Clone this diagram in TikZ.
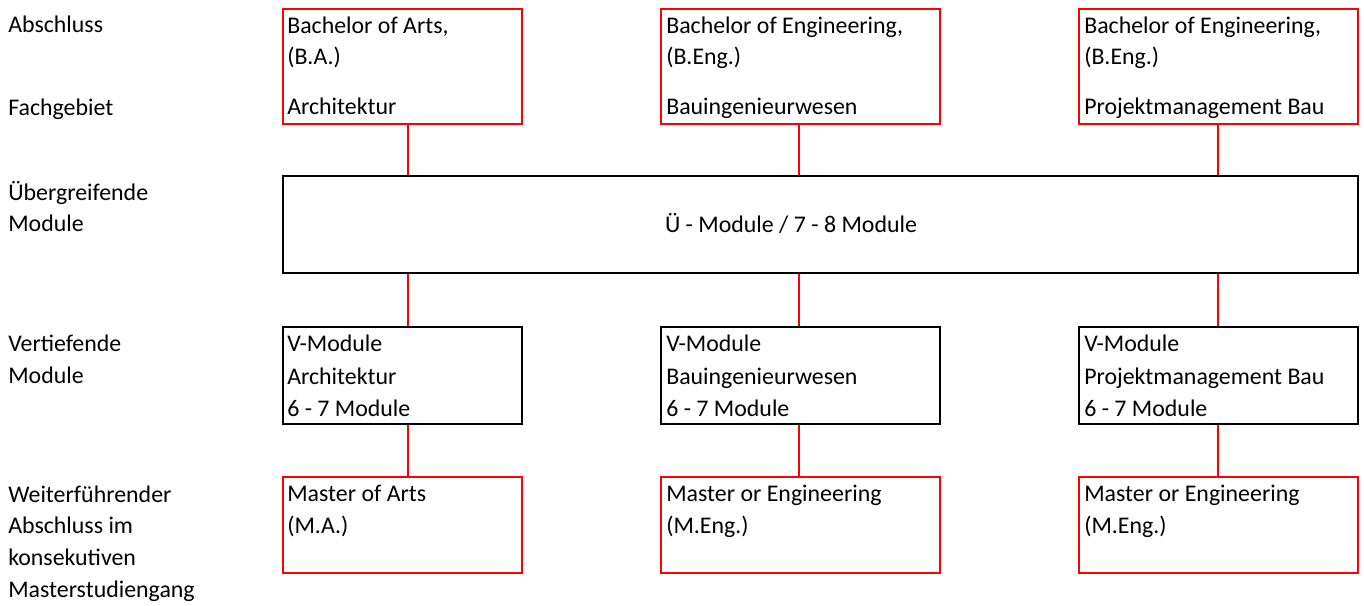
\documentclass[tikz,border=0pt]{standalone}
\usepackage{fontspec}
\setmainfont{Carlito}
\begin{document}
\begin{tikzpicture}[x=0.75pt,y=-0.75pt,
  every node/.style={font=\fontsize{17.9pt}{21pt}\selectfont},
  txt/.style={anchor=base west,inner sep=0pt},
  redbox/.style={draw=red,line width=1.5pt,inner sep=0pt,anchor=north west},
  blkbox/.style={draw=black,line width=1.5pt,inner sep=0pt,anchor=north west},
  link/.style={draw=red,line width=1.5pt}]
\useasboundingbox (0,0) rectangle (1364,606);
% row labels
\node[txt] (l1) at (8,33) {Abschluss};
\node[txt] (l2) at (8,116) {Fachgebiet};
\node[txt] (l3) at (8,201) {Übergreifende};
\node[txt] (l3b) at (8,232) {Module};
\node[txt] (l4) at (8,351) {Vertiefende};
\node[txt] (l4b) at (8,383) {Module};
\node[txt] (l5) at (8,502) {Weiterführender};
\node[txt] (l5b) at (8,533) {Abschluss im};
\node[txt] (l5c) at (8,565) {konsekutiven};
\node[txt] (l5d) at (8,597) {Masterstudiengang};
% top boxes
\node[redbox,minimum width=239*0.75pt,minimum height=115*0.75pt] (b1) at (282,8) {};
\node[redbox,minimum width=279*0.75pt,minimum height=115*0.75pt] (b2) at (660,8) {};
\node[redbox,minimum width=279*0.75pt,minimum height=115*0.75pt] (b3) at (1078,8) {};
\node[txt] (b1a) at (287,34) {Bachelor of Arts,};
\node[txt] (b1b) at (287,65) {(B.A.)};
\node[txt] (b1c) at (287,115) {Architektur};
\node[txt] (b2a) at (666,34) {Bachelor of Engineering,};
\node[txt] (b2b) at (666,65) {(B.Eng.)};
\node[txt] (b2c) at (666,115) {Bauingenieurwesen};
\node[txt] (b3a) at (1084,34) {Bachelor of Engineering,};
\node[txt] (b3b) at (1084,65) {(B.Eng.)};
\node[txt] (b3c) at (1084,115) {Projektmanagement Bau};
% middle box
\node[blkbox,minimum width=1075*0.75pt,minimum height=97*0.75pt] (u) at (282,175) {};
\node[anchor=base,inner sep=0pt] (ut) at (791,233) {Ü - Module / 7 - 8 Module};
% V boxes
\node[blkbox,minimum width=239*0.75pt,minimum height=97*0.75pt] (v1) at (282,326) {};
\node[blkbox,minimum width=279*0.75pt,minimum height=97*0.75pt] (v2) at (660,326) {};
\node[blkbox,minimum width=279*0.75pt,minimum height=97*0.75pt] (v3) at (1078,326) {};
\node[txt] (v1a) at (287,351) {V-Module};
\node[txt] (v1b) at (287,384) {Architektur};
\node[txt] (v1c) at (287,416) {6 - 7 Module};
\node[txt] (v2a) at (666,351) {V-Module};
\node[txt] (v2b) at (666,384) {Bauingenieurwesen};
\node[txt] (v2c) at (666,416) {6 - 7 Module};
\node[txt] (v3a) at (1084,351) {V-Module};
\node[txt] (v3b) at (1084,384) {Projektmanagement Bau};
\node[txt] (v3c) at (1084,416) {6 - 7 Module};
% master boxes
\node[redbox,minimum width=239*0.75pt,minimum height=96*0.75pt] (m1) at (282,476) {};
\node[redbox,minimum width=279*0.75pt,minimum height=96*0.75pt] (m2) at (660,476) {};
\node[redbox,minimum width=279*0.75pt,minimum height=96*0.75pt] (m3) at (1078,476) {};
\node[txt] (m1a) at (287,501) {Master of Arts};
\node[txt] (m1b) at (287,533) {(M.A.)};
\node[txt] (m2a) at (666,501) {Master or Engineering};
\node[txt] (m2b) at (666,533) {(M.Eng.)};
\node[txt] (m3a) at (1084,501) {Master or Engineering};
\node[txt] (m3b) at (1084,533) {(M.Eng.)};
% connector columns
\coordinate (c1) at (408,0);
\coordinate (c2) at (799,0);
\coordinate (c3) at (1218,0);
\draw[link] (b1.south -| c1) -- (u.north -| c1);
\draw[link] (b2.south -| c2) -- (u.north -| c2);
\draw[link] (b3.south -| c3) -- (u.north -| c3);
\draw[link] (u.south -| c1) -- (v1.north -| c1);
\draw[link] (u.south -| c2) -- (v2.north -| c2);
\draw[link] (u.south -| c3) -- (v3.north -| c3);
\draw[link] (v1.south -| c1) -- (m1.north -| c1);
\draw[link] (v2.south -| c2) -- (m2.north -| c2);
\draw[link] (v3.south -| c3) -- (m3.north -| c3);
\end{tikzpicture}
\end{document}
